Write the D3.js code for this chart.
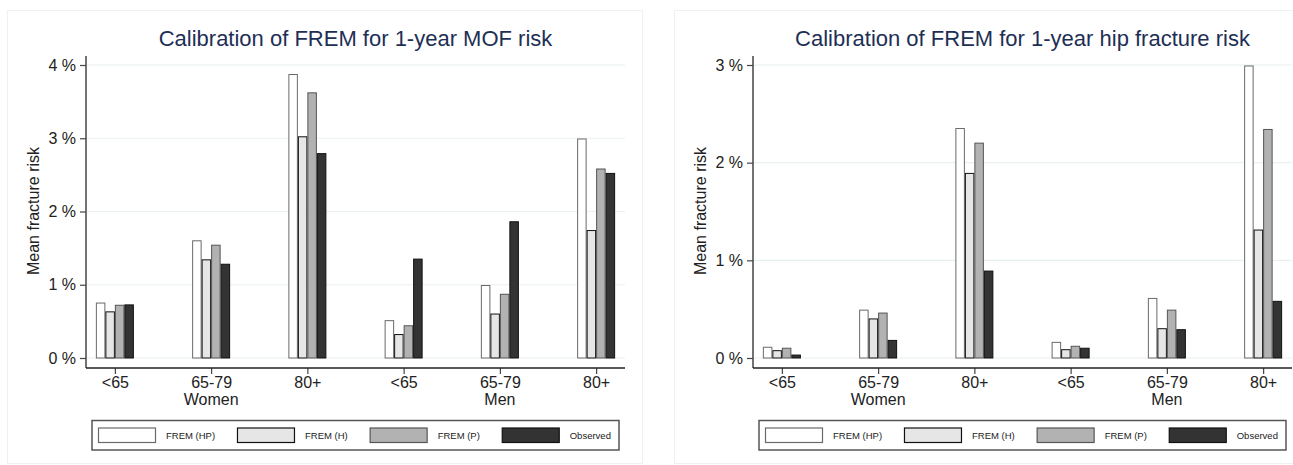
<!DOCTYPE html>
<html>
<head>
<meta charset="utf-8">
<script src="https://cdn.jsdelivr.net/npm/d3@7"></script>
<style>
  body { margin: 0; background: #fff; }
  svg { display: block; font-family: 'Liberation Sans', Arial, sans-serif; }
</style>
</head>
<body>
<div id="graph"></div>
<script>
'use strict'

// categories
const ageGroups = ['<65', '65-79', '80+', '<65', '65-79', '80+']
const sexLabels = ['Women', 'Men']
const seriesNames = ['FREM (HP)', 'FREM (H)', 'FREM (P)', 'Observed']

// 1-year MOF risk (%)
const mofHP = [0.75, 1.60, 3.87, 0.51, 0.99, 2.99]
const mofH = [0.63, 1.34, 3.02, 0.32, 0.60, 1.74]
const mofP = [0.72, 1.54, 3.62, 0.44, 0.87, 2.58]
const mofObs = [0.725, 1.28, 2.79, 1.35, 1.86, 2.52]
const mofTicks = [0, 1, 2, 3, 4]

// 1-year hip fracture risk (%)
const hipHP = [0.11, 0.49, 2.35, 0.16, 0.61, 2.99]
const hipH = [0.075, 0.40, 1.89, 0.085, 0.30, 1.31]
const hipP = [0.10, 0.46, 2.20, 0.12, 0.49, 2.34]
const hipObs = [0.03, 0.18, 0.89, 0.10, 0.29, 0.58]
const hipTicks = [0, 1, 2, 3]

const fills = ['#ffffff', '#e6e6e6', '#b2b2b2', '#333333']
const strokes = ['#6a6a6a', '#111111', '#555555', '#111111']

let svg = d3.select('#graph').append('svg')
  .attr('width', 1293)
  .attr('height', 465)

function drawPanel (dx, title, series, ticks) {
  let g = svg.append('g').attr('transform', `translate(${dx}, 0)`)
  let left = 86, right = 625, top = 56, bottom = 368

  g.append('rect')
    .attr('x', 7.5).attr('y', 10.5)
    .attr('width', 635).attr('height', 453)
    .attr('fill', '#fff')
    .attr('stroke', '#eef1f1')

  let x = d3.scalePoint()
    .domain(d3.range(ageGroups.length))
    .range([left, right])
    .padding(0.3)
  let xs = d3.scaleBand()
    .domain(d3.range(seriesNames.length))
    .range([-19, 19])
  let y = d3.scaleLinear()
    .domain([0, d3.max(ticks)])
    .range([358, 65])

  // grid
  g.append('g')
    .selectAll('line')
    .data(ticks)
    .join('line')
      .attr('x1', left).attr('x2', right)
      .attr('y1', d => y(d)).attr('y2', d => y(d))
      .attr('stroke', '#e9f0f1')
      .attr('stroke-width', 1.2)

  // bars
  series.forEach((vals, s) => {
    g.append('g')
      .selectAll('rect')
      .data(vals)
      .join('rect')
        .attr('x', (d, i) => x(i) + xs(s) + 0.5)
        .attr('y', d => y(d))
        .attr('width', xs.bandwidth() - 1)
        .attr('height', d => y(0) - y(d))
        .attr('fill', fills[s])
        .attr('stroke', strokes[s])
        .attr('stroke-width', 1)
  })

  // y axis
  let yAxis = g.append('g')
    .attr('transform', `translate(${left}, 0)`)
    .call(d3.axisLeft(y).tickValues(ticks).tickSize(6).tickPadding(4).tickFormat(d => d + ' %'))
  yAxis.select('.domain').remove()
  yAxis.append('line')
    .attr('y1', top).attr('y2', bottom)
    .attr('stroke', '#444').attr('stroke-width', 1.5)
  yAxis.selectAll('.tick line').attr('stroke', '#444').attr('stroke-width', 1.2)
  yAxis.selectAll('.tick text')
    .attr('fill', '#222')
    .style('font-size', '16px')
    .attr('font-family', null)

  // x axis
  let xAxis = g.append('g')
    .attr('transform', `translate(0, ${bottom})`)
    .call(d3.axisBottom(x).tickSize(6).tickPadding(4).tickFormat(i => ageGroups[i]))
  xAxis.select('.domain').remove()
  xAxis.append('line')
    .attr('x1', left).attr('x2', right)
    .attr('stroke', '#222').attr('stroke-width', 1.5)
  xAxis.selectAll('.tick line').attr('stroke', '#444').attr('stroke-width', 1.2)
  xAxis.selectAll('.tick text')
    .attr('fill', '#222')
    .attr('dy', null)
    .attr('y', 20)
    .style('font-size', '16px')
    .attr('font-family', null)

  g.selectAll('.sex')
    .data(sexLabels)
    .join('text')
      .attr('class', 'sex')
      .attr('x', (d, i) => x(i * 3 + 1))
      .attr('y', 405)
      .attr('text-anchor', 'middle')
      .attr('fill', '#222')
      .style('font-size', '16px')
      .text(d => d)

  g.append('text')
    .attr('transform', 'translate(39, 211) rotate(-90)')
    .attr('text-anchor', 'middle')
    .attr('fill', '#222')
    .style('font-size', '16px')
    .text('Mean fracture risk')

  g.append('text')
    .attr('x', (left + right) / 2)
    .attr('y', 46)
    .attr('text-anchor', 'middle')
    .attr('fill', '#1e2f55')
    .style('font-size', '22px')
    .text(title)

  // legend
  let lg = g.append('g')
  lg.append('rect')
    .attr('x', 92).attr('y', 420.5)
    .attr('width', 527).attr('height', 29.5)
    .attr('fill', '#fff')
    .attr('stroke', '#555')
    .attr('stroke-width', 1.5)
  let lx = 98.5
  seriesNames.forEach((name, s) => {
    lg.append('rect')
      .attr('x', lx).attr('y', 428)
      .attr('width', 57).attr('height', 14.5)
      .attr('fill', fills[s])
      .attr('stroke', strokes[s])
      .attr('stroke-width', 1.2)
    let t = lg.append('text')
      .attr('x', lx + 67.5)
      .attr('y', 438.5)
      .attr('fill', '#222')
      .style('font-size', '9.5px')
      .text(name)
    lx += 67.5 + t.node().getComputedTextLength() + 22.4
  })
}

drawPanel(0, 'Calibration of FREM for 1-year MOF risk', [mofHP, mofH, mofP, mofObs], mofTicks)
drawPanel(667, 'Calibration of FREM for 1-year hip fracture risk', [hipHP, hipH, hipP, hipObs], hipTicks)
</script>
</body>
</html>
